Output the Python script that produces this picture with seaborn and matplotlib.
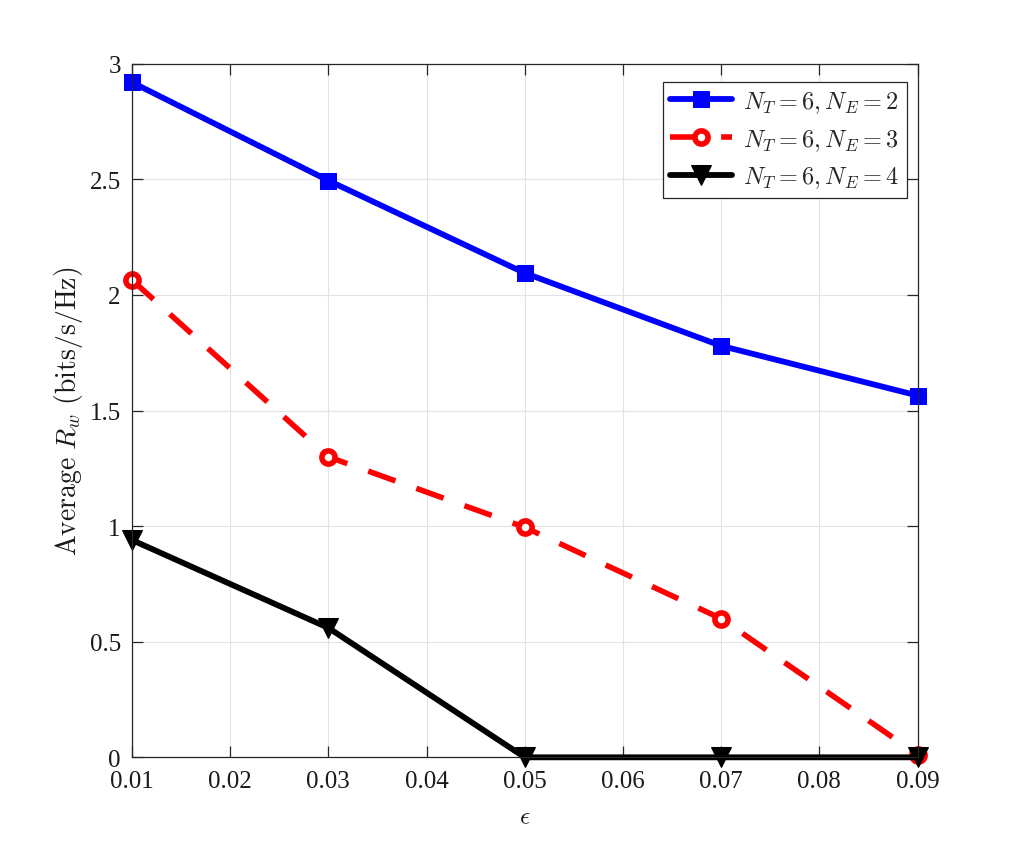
import pandas as pd
import numpy as np
import seaborn as sns
import matplotlib.pyplot as plt

eps = [0.01, 0.03, 0.05, 0.07, 0.09]
rw_ne2 = [2.92, 2.495, 2.095, 1.78, 1.565]
rw_ne3 = [2.065, 1.30, 0.995, 0.60, 0.012]
rw_ne4 = [0.94, 0.56, 0.0, 0.0, 0.0]
labels = [r'$N_T=6,N_E=2$', r'$N_T=6,N_E=3$', r'$N_T=6,N_E=4$']

sns.set_theme(style='whitegrid')
plt.rcParams['font.family'] = ['Liberation Serif', 'DejaVu Serif']
plt.rcParams['mathtext.fontset'] = 'cm'

fig, ax = plt.subplots(figsize=(10.15, 8.53), dpi=100)
fig.subplots_adjust(left=0.13, right=0.904, top=0.924, bottom=0.111)

sns.lineplot(x=eps, y=rw_ne2, ax=ax, color='#0000ff', lw=4.2, marker='s',
             markersize=11, markeredgecolor='#0000ff', label=labels[0])
sns.lineplot(x=eps, y=rw_ne3, ax=ax, color='#ff0000', lw=4.0, marker='o',
             markersize=9.5, markerfacecolor='white', markeredgecolor='#ff0000',
             markeredgewidth=4, label=labels[1])
ax.lines[-1].set_dashes([5.2, 4])
sns.lineplot(x=eps, y=rw_ne4, ax=ax, color='black', lw=4.2, marker='v',
             markersize=14, markeredgecolor='black', label=labels[2])

for ln in ax.lines:
    ln.set_clip_on(False)

ax.set_xlim(0.01, 0.09)
ax.set_ylim(0, 3)
ax.set_xticks(np.arange(0.01, 0.0901, 0.01))
ax.set_xticklabels(['0.01', '0.02', '0.03', '0.04', '0.05', '0.06', '0.07', '0.08', '0.09'])
ax.set_yticks([0, 0.5, 1, 1.5, 2, 2.5, 3])
ax.set_yticklabels(['0', '0.5', '1', '1.5', '2', '2.5', '3'])

ax.grid(True, color='#e3e3e3', lw=0.8)
for s in ax.spines.values():
    s.set_color('#262626')
    s.set_linewidth(0.9)
ax.tick_params(direction='in', length=8, width=0.9, colors='#262626',
               labelsize=18, top=True, right=True, bottom=True, left=True,
               labelcolor='#1a1a1a')
ax.tick_params(axis='x', pad=9)
ax.tick_params(axis='y', pad=8)

ax.set_xlabel(r'$\epsilon$', fontsize=18, color='#1a1a1a', labelpad=10)
ax.set_ylabel(r'$\mathrm{Average}\ R_w\ \mathrm{(bits/s/Hz)}$', fontsize=20,
              color='#1a1a1a', labelpad=3)

leg = ax.legend(loc='upper right', bbox_to_anchor=(0.986, 0.974),
                fontsize=17.5, frameon=True, fancybox=False,
                edgecolor='#262626', framealpha=1, borderpad=0.3,
                handlelength=2.55, handletextpad=0.45, labelspacing=0.5,
                borderaxespad=0)
leg.get_frame().set_linewidth(0.9)

fig.savefig('out.png', dpi=100)
